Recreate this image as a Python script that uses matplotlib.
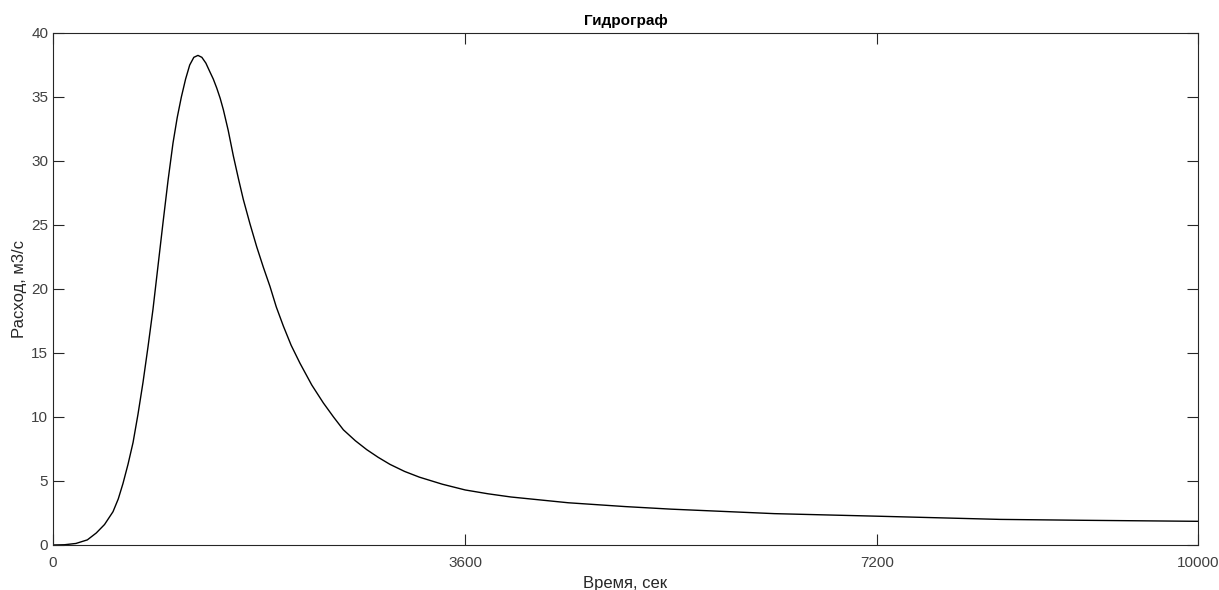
import numpy as np
import matplotlib
matplotlib.use("Agg")
import matplotlib.pyplot as plt

# hydrograph: time in seconds, discharge in m3/s
t = [0, 100, 200, 300, 378, 450, 524, 570, 611, 655, 699, 742, 786, 830,
     873, 917, 961, 1005, 1048, 1085, 1121, 1158, 1194, 1230, 1266, 1300,
     1335, 1371, 1400, 1430, 1460, 1488, 1530, 1575, 1620, 1662, 1720, 1779,
     1837, 1895, 1950, 2012, 2080, 2157, 2260, 2361, 2450, 2536, 2640, 2740,
     2840, 2943, 3070, 3200, 3400, 3600, 3800, 4000, 4500, 5000, 5400, 6300,
     7200, 8271, 9000, 10000]
q = [0, 0.02, 0.12, 0.4, 0.94, 1.6, 2.6, 3.6, 4.8, 6.3, 8.0, 10.2, 12.7,
     15.5, 18.4, 21.8, 25.2, 28.5, 31.4, 33.4, 35.0, 36.4, 37.5, 38.1, 38.25,
     38.1, 37.65, 36.95, 36.4, 35.7, 34.9, 34.0, 32.4, 30.4, 28.6, 27.0, 25.1,
     23.3, 21.7, 20.2, 18.6, 17.1, 15.6, 14.2, 12.5, 11.1, 10.0, 9.0, 8.15,
     7.45, 6.85, 6.3, 5.75, 5.3, 4.75, 4.3, 4.0, 3.75, 3.3, 3.0, 2.8, 2.45,
     2.25, 2.0, 1.93, 1.85]

xticks = [0, 3600, 7200, 10000]
yticks = [0, 5, 10, 15, 20, 25, 30, 35, 40]

plt.rcParams['font.family'] = ['Liberation Sans', 'DejaVu Sans']

axcol = '#262626'
fig = plt.figure(figsize=(12.19, 5.9), dpi=100)
ax = fig.add_axes([53/1219, 45/590, (1198-53)/1219, (545-33)/590])

ax.plot(t, q, color='black', lw=1.0)

ax.set_xlim(0, 10000)
ax.set_ylim(0, 40)
ax.set_xticks(xticks)
ax.set_yticks(yticks)
ax.tick_params(direction='in', length=8, width=0.8, colors=axcol,
               labelcolor='#404040', labelsize=11, top=True, right=True)
ax.tick_params(axis='x', pad=8)
for s in ax.spines.values():
    s.set_color(axcol)
    s.set_linewidth(0.8)

ax.set_title('Гидрограф', fontsize=11, fontweight='bold', color='black', pad=6)
ax.set_xlabel('Время, сек', fontsize=12, color='#262626', labelpad=4)
ax.set_ylabel('Расход, м3/с', fontsize=12, color='#262626', labelpad=3)

fig.savefig('out.png', dpi=100)
